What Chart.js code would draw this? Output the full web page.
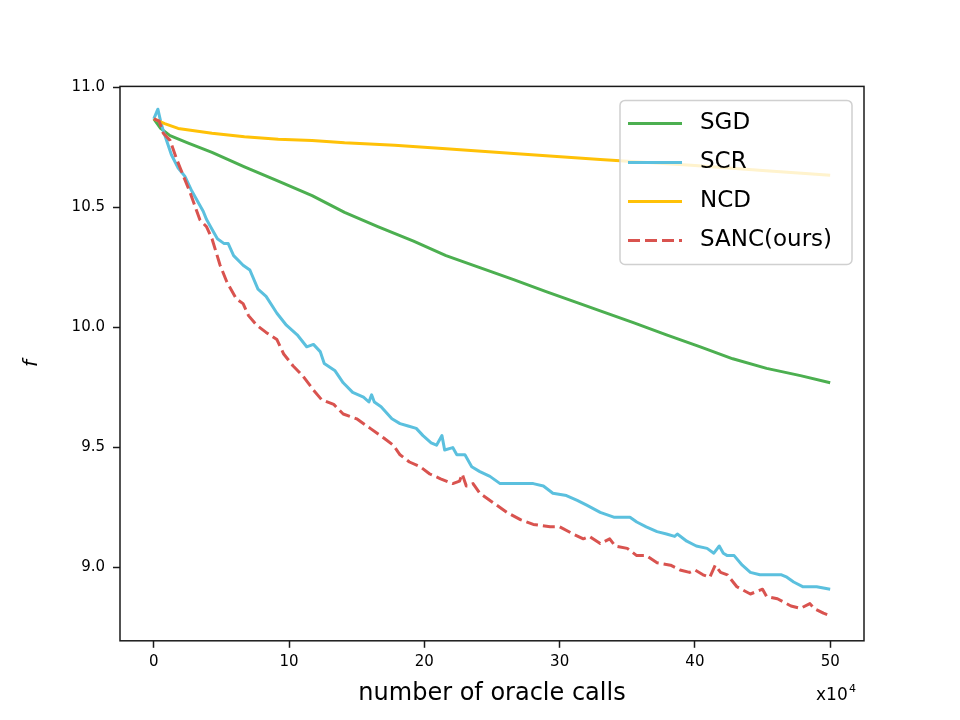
<!DOCTYPE html>
<html>
<head>
<meta charset="utf-8">
<script src="https://cdn.jsdelivr.net/npm/chart.js@4"></script>
<style>
  body { margin: 0; background: #fff; }
</style>
</head>
<body>
<canvas id="grafica" width="960" height="720"></canvas>
<script>
// datos (x en unidades de 10^4 llamadas)
const sgdX = [0, 0.5, 1.2, 2.5, 4.3, 6.7, 9.2, 11.7, 14.1, 16.6, 19.2, 21.6, 24.1, 26.6, 29.0, 31.5, 33.0, 35.5, 37.9, 40.4, 42.8, 45.3, 47.8, 50];
const sgdY = [10.87, 10.83, 10.80, 10.77, 10.73, 10.67, 10.61, 10.55, 10.48, 10.42, 10.36, 10.30, 10.25, 10.20, 10.15, 10.10, 10.07, 10.02, 9.97, 9.92, 9.87, 9.83, 9.80, 9.77];

const scrX = [0, 0.3, 0.5, 0.7, 1.3, 1.8, 2.3, 2.8, 3.4, 3.65, 3.9, 4.3, 4.7, 5.2, 5.5, 5.9, 6.6, 7.1, 7.7, 8.3, 9.1, 9.8, 10.6, 11.3, 11.8, 12.3, 12.6, 13.4, 14.0, 14.7, 15.5, 15.9, 16.1, 16.3, 16.8, 17.6, 18.2, 18.8, 19.4, 19.9, 20.5, 20.9, 21.3, 21.5, 22.1, 22.4, 23.0, 23.5, 24.1, 24.85, 25.6, 27.1, 28.05, 28.8, 29.5, 30.5, 31.3, 32.0, 33.0, 34.0, 34.5, 35.2, 35.7, 36.4, 37.2, 37.9, 38.5, 38.7, 39.4, 40.1, 40.9, 41.4, 41.8, 42.1, 42.4, 42.9, 43.5, 44.1, 44.8, 45.8, 46.4, 46.8, 47.3, 48.0, 49.0, 50];
const scrY = [10.87, 10.91, 10.86, 10.82, 10.72, 10.665, 10.63, 10.57, 10.51, 10.485, 10.45, 10.41, 10.37, 10.35, 10.35, 10.30, 10.26, 10.24, 10.16, 10.13, 10.06, 10.01, 9.97, 9.92, 9.93, 9.90, 9.85, 9.82, 9.77, 9.73, 9.71, 9.69, 9.72, 9.69, 9.67, 9.62, 9.60, 9.59, 9.58, 9.55, 9.52, 9.51, 9.55, 9.49, 9.50, 9.47, 9.47, 9.42, 9.40, 9.38, 9.35, 9.35, 9.35, 9.34, 9.31, 9.30, 9.28, 9.26, 9.23, 9.21, 9.21, 9.21, 9.19, 9.17, 9.15, 9.14, 9.13, 9.14, 9.11, 9.09, 9.08, 9.06, 9.09, 9.06, 9.05, 9.05, 9.01, 8.98, 8.97, 8.97, 8.97, 8.96, 8.94, 8.92, 8.92, 8.91];

const ncdX = [0, 0.8, 1.8, 4.3, 6.7, 9.2, 11.7, 14.1, 17.8, 21.6, 26.6, 33.0, 40, 45, 50];
const ncdY = [10.87, 10.85, 10.83, 10.81, 10.795, 10.785, 10.78, 10.77, 10.76, 10.745, 10.725, 10.70, 10.675, 10.655, 10.635];

const sancX = [0, 0.4, 0.7, 1.2, 1.7, 2.2, 2.7, 3.4, 3.9, 4.3, 4.9, 5.4, 6.1, 6.6, 7.0, 7.6, 8.3, 9.1, 9.6, 10.3, 11.0, 11.8, 12.4, 13.3, 14.0, 15.0, 16.0, 17.0, 17.7, 18.2, 18.9, 19.7, 20.4, 21.2, 22.1, 22.6, 22.8, 23.1, 23.6, 24.1, 25.1, 26.1, 27.1, 28.05, 29.3, 30.0, 31.0, 31.75, 32.2, 33.0, 33.7, 34.1, 35.0, 35.7, 36.4, 37.2, 38.2, 38.9, 39.6, 40.0, 40.6, 41.1, 41.5, 41.9, 42.4, 43.1, 44.1, 45.0, 45.3, 46.1, 47.1, 47.8, 48.5, 48.8, 49.5, 50];
const sancY = [10.87, 10.86, 10.81, 10.78, 10.70, 10.63, 10.56, 10.45, 10.42, 10.37, 10.26, 10.19, 10.12, 10.10, 10.05, 10.01, 9.98, 9.95, 9.89, 9.84, 9.80, 9.74, 9.70, 9.68, 9.64, 9.62, 9.58, 9.54, 9.51, 9.47, 9.44, 9.42, 9.39, 9.37, 9.35, 9.36, 9.39, 9.34, 9.35, 9.31, 9.27, 9.23, 9.20, 9.18, 9.17, 9.17, 9.14, 9.12, 9.13, 9.10, 9.12, 9.09, 9.08, 9.05, 9.05, 9.02, 9.01, 8.99, 8.98, 8.99, 8.97, 8.96, 9.01, 8.98, 8.97, 8.92, 8.89, 8.91, 8.88, 8.87, 8.84, 8.83, 8.85, 8.83, 8.81, 8.80];

const xTicks = [0, 10, 20, 30, 40, 50];
const yTicks = [9.0, 9.5, 10.0, 10.5, 11.0];

function puntos(xs, ys) {
    return xs.map((x, i) => ({ x: x, y: ys[i] }));
}

// marco de los ejes y leyenda dentro del area
const marcoYLeyenda = {
    id: 'marcoYLeyenda',
    afterDatasetsDraw(chart) {
        const { ctx, chartArea } = chart;
        ctx.save();
        ctx.strokeStyle = '#1a1a1a';
        ctx.lineWidth = 1.5;
        ctx.strokeRect(chartArea.left, chartArea.top, chartArea.right - chartArea.left, chartArea.bottom - chartArea.top);

        const w = 232, h = 164;
        const x0 = chartArea.right - 12 - w;
        const y0 = chartArea.top + 14;
        ctx.beginPath();
        ctx.roundRect(x0, y0, w, h, 5);
        ctx.fillStyle = 'rgba(255,255,255,0.8)';
        ctx.fill();
        ctx.strokeStyle = '#d0d0d0';
        ctx.lineWidth = 1.5;
        ctx.stroke();

        ctx.font = '23px "DejaVu Sans"';
        ctx.textBaseline = 'middle';
        chart.data.datasets.forEach((ds, i) => {
            const y = y0 + 23 + i * 39;
            ctx.beginPath();
            ctx.setLineDash(ds.borderDash || []);
            ctx.strokeStyle = ds.borderColor;
            ctx.lineWidth = ds.borderWidth;
            ctx.moveTo(x0 + 8, y);
            ctx.lineTo(x0 + 62, y);
            ctx.stroke();
            ctx.setLineDash([]);
            ctx.fillStyle = '#000';
            ctx.fillText(ds.label, x0 + 80, y);
        });

        // factor de escala del eje x
        ctx.fillStyle = '#000';
        ctx.textBaseline = 'alphabetic';
        ctx.font = '17px "DejaVu Sans"';
        ctx.fillText('x10', chartArea.right - 48, chartArea.bottom + 59);
        ctx.font = '11px "DejaVu Sans"';
        ctx.fillText('4', chartArea.right - 15, chartArea.bottom + 51);
        ctx.restore();
    }
};

const ctx = document.getElementById('grafica');

new Chart(ctx, {
    type: 'line',
    data: {
        datasets: [
            { label: 'SGD', data: puntos(sgdX, sgdY), borderColor: '#4caf50', borderWidth: 3, order: 3 },
            { label: 'SCR', data: puntos(scrX, scrY), borderColor: '#5bc0de', borderWidth: 3, order: 2 },
            { label: 'NCD', data: puntos(ncdX, ncdY), borderColor: '#ffc107', borderWidth: 3, order: 1 },
            { label: 'SANC(ours)', data: puntos(sancX, sancY), borderColor: '#d9534f', borderWidth: 3, borderDash: [12, 5], order: 0 }
        ]
    },
    options: {
        responsive: false,
        animation: false,
        layout: { padding: { left: 0, top: 86.4, right: 96, bottom: 0 } },
        elements: {
            point: { radius: 0 },
            line: { tension: 0, borderJoinStyle: 'round', fill: false }
        },
        plugins: {
            legend: { display: false },
            tooltip: { enabled: false }
        },
        scales: {
            x: {
                type: 'linear',
                min: -2.5,
                max: 52.5,
                afterBuildTicks: (scale) => { scale.ticks = xTicks.map(v => ({ value: v })); },
                afterFit: (scale) => { scale.height = 79.2; },
                grid: { drawOnChartArea: false, drawTicks: true, tickLength: 7, color: '#1a1a1a', tickWidth: 1.5 },
                border: { display: false },
                ticks: { color: '#000', font: { family: 'DejaVu Sans', size: 15 }, padding: 5, maxRotation: 0 },
                title: { display: true, text: 'number of oracle calls', color: '#000', font: { family: 'DejaVu Sans', size: 24 }, padding: { bottom: 12 } }
            },
            y: {
                min: 8.695,
                max: 11.005,
                afterBuildTicks: (scale) => { scale.ticks = yTicks.map(v => ({ value: v })); },
                afterFit: (scale) => { scale.width = 120; },
                grid: { drawOnChartArea: false, drawTicks: true, tickLength: 7, color: '#1a1a1a', tickWidth: 1.5 },
                border: { display: false },
                ticks: { color: '#000', font: { family: 'DejaVu Sans', size: 15 }, padding: 8, callback: (v) => v.toFixed(1) },
                title: { display: true, text: 'f', color: '#000', font: { family: 'DejaVu Sans', size: 20, style: 'italic' }, padding: { top: 20 } }
            }
        }
    },
    plugins: [marcoYLeyenda]
});
</script>
</body>
</html>
